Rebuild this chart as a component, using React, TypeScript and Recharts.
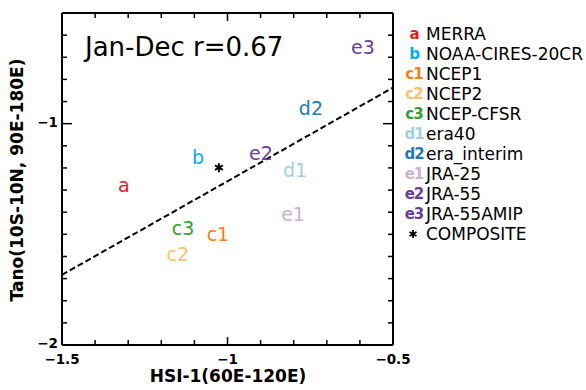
import {
  ScatterChart,
  Scatter,
  XAxis,
  YAxis,
  ReferenceLine,
} from 'recharts';

// reanalysis points (HSI-1, Tano)
const codes = ['a', 'b', 'c1', 'c2', 'c3', 'd1', 'd2', 'e1', 'e2', 'e3'];
const names = [
  'MERRA',
  'NOAA-CIRES-20CR',
  'NCEP1',
  'NCEP2',
  'NCEP-CFSR',
  'era40',
  'era_interim',
  'JRA-25',
  'JRA-55',
  'JRA-55AMIP',
];
const hsi = [-1.313, -1.089, -1.029, -1.15, -1.134, -0.796, -0.748, -0.802, -0.899, -0.591];
const tano = [-1.276, -1.149, -1.498, -1.588, -1.471, -1.208, -0.928, -1.407, -1.131, -0.652];
const colors = [
  '#e41a1c',
  '#00aeef',
  '#f47f20',
  '#fdbf6f',
  '#33a02c',
  '#a6cee3',
  '#1f78b4',
  '#cab2d6',
  '#6a3d9a',
  '#6a3d9a',
];

const compositeX = [-1.026];
const compositeY = [-1.199];

// regression line end points
const fitX = [-1.5, -0.5];
const fitY = [-1.683, -0.837];

const xTicks = [-1.5, -1.4, -1.3, -1.2, -1.1, -1.0, -0.9, -0.8, -0.7, -0.6, -0.5];
const yTicks = [
  -2.0, -1.9, -1.8, -1.7, -1.6, -1.5, -1.4, -1.3, -1.2, -1.1, -1.0,
  -0.9, -0.8, -0.7, -0.6, -0.5,
];
const xMajor = [-1.5, -1, -0.5];
const yMajor = [-2, -1];

const font = '"DejaVu Sans", sans-serif';

const points = codes.map((c, i) => ({
  x: hsi[i],
  y: tano[i],
  code: c,
  color: colors[i],
}));
const composite = compositeX.map((x, i) => ({ x, y: compositeY[i] }));

const isMajor = (v: number, list: number[]) => list.some((m) => Math.abs(m - v) < 1e-6);
const fmt = (v: number) => String(Math.round(v * 10) / 10).replace('-', '\u2212');

const BottomTick = (props: any) => {
  const { x, y, payload } = props;
  const major = isMajor(payload.value, xMajor);
  return (
    <g>
      <line x1={x} y1={y} x2={x} y2={y - (major ? 8 : 5)} stroke="#000" strokeWidth={1.5} />
      {major && (
        <text x={x} y={y + 19} textAnchor="middle" fontFamily={font} fontWeight="bold" fontSize={13.5} fill="#000">
          {fmt(payload.value)}
        </text>
      )}
    </g>
  );
};

const TopTick = (props: any) => {
  const { x, y, payload } = props;
  const major = isMajor(payload.value, xMajor);
  return <line x1={x} y1={y} x2={x} y2={y + (major ? 8 : 5)} stroke="#000" strokeWidth={1.5} />;
};

const LeftTick = (props: any) => {
  const { x, y, payload } = props;
  const major = isMajor(payload.value, yMajor);
  return (
    <g>
      <line x1={x} y1={y} x2={x + (major ? 10 : 5)} y2={y} stroke="#000" strokeWidth={1.5} />
      {major && (
        <text x={x - 4} y={y + 3} textAnchor="end" fontFamily={font} fontWeight="bold" fontSize={13.5} fill="#000">
          {fmt(payload.value)}
        </text>
      )}
    </g>
  );
};

const RightTick = (props: any) => {
  const { x, y, payload } = props;
  const major = isMajor(payload.value, yMajor);
  return <line x1={x} y1={y} x2={x - (major ? 10 : 5)} y2={y} stroke="#000" strokeWidth={1.5} />;
};

const CodeMark = (props: any) => {
  const { cx, cy, payload } = props;
  return (
    <text
      x={cx}
      y={cy + 7}
      textAnchor="middle"
      fontFamily={font}
      fontSize={19}
      fill={payload.color}
    >
      {payload.code}
    </text>
  );
};

const Star = ({ cx, cy, r = 4.5, sw = 2 }: any) => (
  <g stroke="#000" strokeWidth={sw}>
    <line x1={cx} y1={cy - r} x2={cx} y2={cy + r} />
    <line x1={cx - r * 0.87} y1={cy - r / 2} x2={cx + r * 0.87} y2={cy + r / 2} />
    <line x1={cx - r * 0.87} y1={cy + r / 2} x2={cx + r * 0.87} y2={cy - r / 2} />
  </g>
);

const axisLine = { stroke: '#000', strokeWidth: 2 };

export default function App() {
  return (
    <div style={{ position: 'absolute', left: 0, top: 0, width: 586, height: 390, background: '#fff' }}>
      <ScatterChart width={586} height={390} margin={{ top: 8, right: 188, bottom: 15, left: 22 }}>
        <XAxis
          xAxisId="b"
          type="number"
          dataKey="x"
          domain={[-1.5, -0.5]}
          ticks={xTicks}
          interval={0}
          height={30}
          tickSize={0}
          tickMargin={0}
          axisLine={axisLine}
          tick={<BottomTick />}
        />
        <XAxis
          xAxisId="t"
          orientation="top"
          type="number"
          dataKey="x"
          domain={[-1.5, -0.5]}
          ticks={xTicks}
          interval={0}
          height={5}
          tickSize={0}
          tickMargin={0}
          axisLine={axisLine}
          tick={<TopTick />}
        />
        <YAxis
          yAxisId="l"
          type="number"
          dataKey="y"
          domain={[-2, -0.5]}
          ticks={yTicks}
          interval={0}
          width={40}
          tickSize={0}
          tickMargin={0}
          axisLine={axisLine}
          tick={<LeftTick />}
        />
        <YAxis
          yAxisId="r"
          orientation="right"
          type="number"
          dataKey="y"
          domain={[-2, -0.5]}
          ticks={yTicks}
          interval={0}
          width={5}
          tickSize={0}
          tickMargin={0}
          axisLine={axisLine}
          tick={<RightTick />}
        />
        <ReferenceLine
          xAxisId="b"
          yAxisId="l"
          segment={[
            { x: fitX[0], y: fitY[0] },
            { x: fitX[1], y: fitY[1] },
          ]}
          stroke="#000"
          strokeWidth={2}
          strokeDasharray="6 3"
        />
        <Scatter
          xAxisId="b"
          yAxisId="l"
          data={points}
          shape={<CodeMark />}
          isAnimationActive={false}
        />
        <Scatter
          xAxisId="b"
          yAxisId="l"
          data={composite}
          shape={<Star />}
          isAnimationActive={false}
        />
        <Scatter xAxisId="t" yAxisId="r" data={composite} shape={() => <g />} isAnimationActive={false} />
      </ScatterChart>

      <div
        style={{
          position: 'absolute',
          left: 85,
          top: 32,
          fontFamily: font,
          fontSize: 26,
          color: '#000',
          whiteSpace: 'nowrap',
        }}
      >
        Jan-Dec r=0.67
      </div>

      <div
        style={{
          position: 'absolute',
          left: 402,
          top: 24,
          fontFamily: font,
          fontSize: 17,
          lineHeight: '20px',
          whiteSpace: 'nowrap',
        }}
      >
        {codes.map((c, i) => (
          <div key={c} style={{ display: 'flex' }}>
            <span
              style={{
                width: 24,
                textAlign: 'center',
                color: colors[i],
                fontWeight: 'bold',
                fontSize: 15,
                letterSpacing: -1,
              }}
            >
              {c}
            </span>
            <span style={{ color: '#000' }}>{names[i]}</span>
          </div>
        ))}
        <div style={{ display: 'flex', alignItems: 'center' }}>
          <svg width={24} height={20}>
            <Star cx={11} cy={10} r={4} sw={1.8} />
          </svg>
          <span>COMPOSITE</span>
        </div>
      </div>

      <div
        style={{
          position: 'absolute',
          left: 0,
          width: 456,
          top: 366,
          textAlign: 'center',
          fontFamily: font,
          fontWeight: 'bold',
          fontSize: 17,
          whiteSpace: 'nowrap',
        }}
      >
        HSI-1(60E-120E)
      </div>

      <div
        style={{
          position: 'absolute',
          left: 17,
          top: 180,
          transform: 'translate(-50%, -50%) rotate(-90deg)',
          fontFamily: font,
          fontWeight: 'bold',
          fontSize: 17,
          whiteSpace: 'nowrap',
        }}
      >
        Tano(10S-10N, 90E-180E)
      </div>
    </div>
  );
}
